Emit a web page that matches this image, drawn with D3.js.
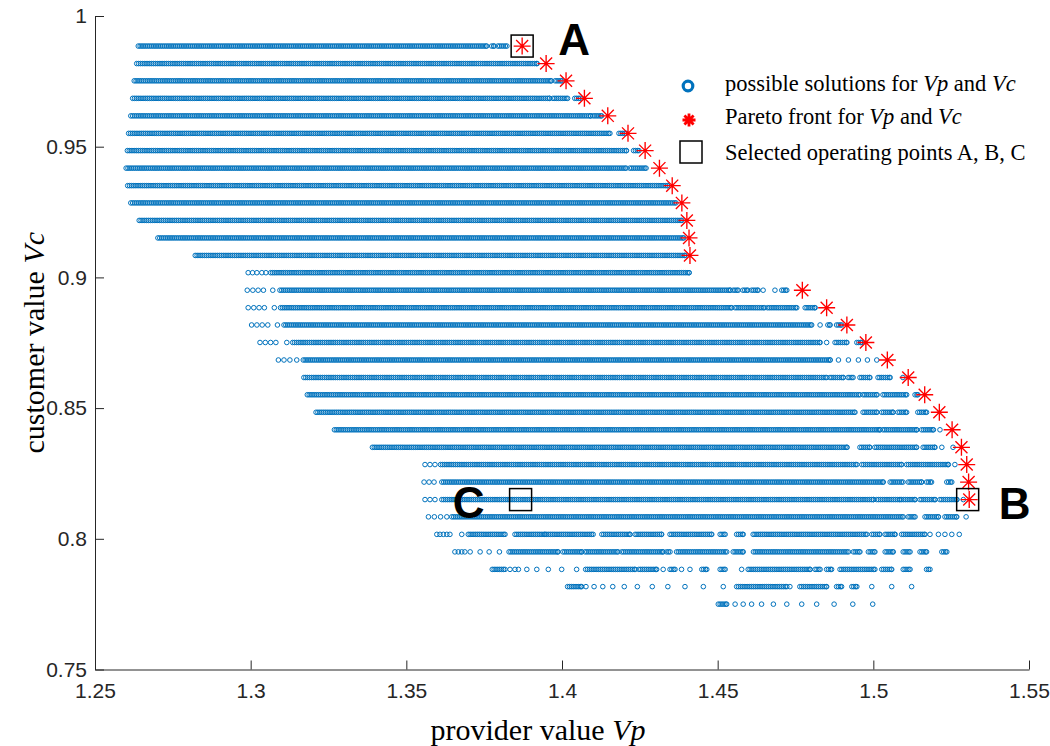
<!DOCTYPE html>
<html>
<head>
  <meta charset="utf-8">
  <title>Provider value vs customer value</title>
  <script src="https://d3js.org/d3.v7.min.js"></script>
  <style>
    body { margin: 0; background: #fff; }
    .axis path, .axis line { stroke: #262626; stroke-width: 1; }
    .axis text { font-family: "Liberation Sans", Arial, sans-serif; font-size: 21px; fill: #262626; }
    .axis-title { font-family: "Liberation Serif", "Times New Roman", serif; font-size: 30px; fill: #000; }
    .legend text { font-family: "Liberation Serif", "Times New Roman", serif; font-size: 22.5px; fill: #000; }
    .letter { font-family: "Liberation Sans", Arial, sans-serif; font-weight: bold; font-size: 44px; fill: #000; }
  </style>
</head>
<body>
<div id="chart"></div>
<script>

const width = 1050;
const height = 746;
const margin = {top: 16, right: 21, bottom: 76.5, left: 95};

// customer value Vc of each row of solutions
const vcLevels = [0.9885, 0.9818, 0.9752, 0.9685, 0.9618, 0.9551, 0.9485, 0.9418, 0.9351, 0.9285,
  0.9218, 0.9151, 0.9084, 0.9018, 0.8951, 0.8884, 0.8818, 0.8751, 0.8684, 0.8617, 0.8551,
  0.8484, 0.8417, 0.8350, 0.8284, 0.8217, 0.8150, 0.8084, 0.8017, 0.7950, 0.7883, 0.7817, 0.7750];

// provider value Vp on each row: [from, to] = dense run of solutions, number = single solution
const rowRuns = [
  [[1.2639, 1.3758], [1.3774, 1.3782], [1.3794, 1.3823]],
  [[1.2634, 1.3920]],
  [[1.2626, 1.3965], [1.3978, 1.4000]],
  [[1.2621, 1.3960], [1.3971, 1.4018], [1.4041, 1.4058]],
  [[1.2615, 1.4092], [1.4100, 1.4127]],
  [[1.2608, 1.4154], [1.4183, 1.4206]],
  [[1.2604, 1.4207], [1.4230, 1.4247]],
  [[1.2600, 1.4206], [1.4218, 1.4270]],
  [[1.2605, 1.4339]],
  [[1.2615, 1.4366]],
  [[1.2642, 1.4385]],
  [[1.2702, 1.4391]],
  [[1.2822, 1.4395]],
  [1.2992, 1.3006, 1.3020, 1.3036, 1.3049, [1.3064, 1.4408]],
  [1.2989, 1.3007, 1.3024, 1.3041, 1.3071, [1.3094, 1.4540], [1.4550, 1.4566], [1.4581, 1.4597],
    [1.4609, 1.4630], 1.4646, 1.4684, [1.4706, 1.4722]],
  [1.2992, 1.3010, 1.3027, 1.3044, 1.3076, [1.3096, 1.4545], [1.4556, 1.4650], [1.4660, 1.4754], [1.4781, 1.4813]],
  [1.3003, 1.3020, 1.3037, 1.3055, 1.3086, [1.3107, 1.4802], 1.4829, [1.4854, 1.4861], [1.4882, 1.4898]],
  [1.3030, 1.3047, 1.3064, 1.3081, 1.3116, [1.3135, 1.4829], 1.4850, [1.4877, 1.4915], [1.4947, 1.4963]],
  [1.3089, 1.3107, 1.3126, 1.3148, [1.3169, 1.4861], 1.4888, 1.4920, 1.4952, 1.4981, 1.5011],
  [[1.3171, 1.4850], [1.4861, 1.4903], [1.4919, 1.4935], [1.4957, 1.4989], [1.5015, 1.5054], 1.5095],
  [[1.3182, 1.4957], [1.4967, 1.5012], [1.5031, 1.5107], [1.5134, 1.5143]],
  [[1.3210, 1.4941], [1.4967, 1.5012], [1.5027, 1.5063], [1.5079, 1.5107], [1.5143, 1.5171]],
  [[1.3269, 1.5021], [1.5031, 1.5139], [1.5155, 1.5193], 1.5214],
  [[1.3391, 1.4915], [1.4957, 1.4989], [1.5005, 1.5139], [1.5160, 1.5198], 1.5220, 1.5256],
  [1.3560, 1.3576, 1.3592, [1.3610, 1.4947], [1.4963, 1.5091], [1.5107, 1.5241], 1.5262],
  [1.3557, 1.3573, 1.3589, [1.3614, 1.5032], [1.5054, 1.5095], [1.5112, 1.5155], [1.5171, 1.5187], [1.5236, 1.5252]],
  [1.3560, 1.3576, 1.3592, [1.3614, 1.5000], [1.5011, 1.5086], [1.5091, 1.5134], [1.5150, 1.5198],
    [1.5214, 1.5268], 1.5289],
  [1.3571, 1.3590, 1.3610, 1.3630, [1.3646, 1.5096], [1.5112, 1.5134], [1.5166, 1.5209], [1.5230, 1.5268], 1.5298],
  [1.3598, 1.3608, 1.3619, 1.3630, 1.3640, 1.3678, [1.3699, 1.3817], [1.3849, 1.3945], [1.3951, 1.4100],
    [1.4128, 1.4218], [1.4235, 1.4320], [1.4347, 1.4481], [1.4508, 1.4524], [1.4561, 1.4582], [1.4614, 1.4979],
    [1.4995, 1.5021], [1.5038, 1.5070], [1.5091, 1.5166], 1.5182, 1.5209, 1.5230, 1.5252, 1.5276],
  [1.3656, 1.3667, 1.3678, 1.3688, 1.3705, 1.3737, 1.3766, 1.3799, [1.3830, 1.3987], [1.4003, 1.4063],
    [1.4074, 1.4180], [1.4192, 1.4324], [1.4336, 1.4347], [1.4368, 1.4529], [1.4550, 1.4582], [1.4615, 1.4920],
    [1.4936, 1.4957], [1.4984, 1.5005], [1.5038, 1.5064], [1.5096, 1.5118], [1.5150, 1.5171], [1.5220, 1.5236]],
  [[1.3776, 1.3817], 1.3833, 1.3849, 1.3860, 1.3887, 1.3919, 1.3956, 1.3999, 1.4047, [1.4076, 1.4235],
    [1.4247, 1.4304], 1.4325, [1.4347, 1.4363], 1.4384, 1.4411, [1.4449, 1.4465], [1.4508, 1.4524], 1.4577,
    [1.4598, 1.4797], [1.4813, 1.4829], [1.4850, 1.4866], [1.4893, 1.5005], [1.5027, 1.5059], [1.5096, 1.5118],
    [1.5171, 1.5182]],
  [[1.4018, 1.4063], 1.4077, 1.4103, 1.4131, 1.4163, 1.4200, 1.4242, 1.4290, 1.4340, 1.4395, 1.4454, 1.4518,
    [1.4561, 1.4722], 1.4732, [1.4764, 1.4850], [1.4882, 1.4898], [1.4931, 1.4947], 1.4995, 1.5059, 1.5123],
  [[1.4502, 1.4529], 1.4556, 1.4582, 1.4609, 1.4641, 1.4679, 1.4722, 1.4770, 1.4818, 1.4874, 1.4934, 1.4998]
];
const runStep = 0.0006; // spacing of solutions inside a dense run

// Pareto front
const paretoVp = [1.3872, 1.3949, 1.4013, 1.4072, 1.4147, 1.4212, 1.4267, 1.4313, 1.4354, 1.4385, 1.4401,
  1.4408, 1.4411, 1.4772, 1.4850, 1.4915, 1.4976, 1.5045, 1.5112, 1.5165, 1.5212, 1.5253, 1.5283, 1.5300,
  1.5306, 1.5308];
const paretoVc = [0.9885, 0.9818, 0.9752, 0.9685, 0.9618, 0.9551, 0.9485, 0.9418, 0.9351, 0.9285, 0.9218,
  0.9151, 0.9084, 0.8951, 0.8884, 0.8818, 0.8751, 0.8684, 0.8617, 0.8551, 0.8484, 0.8417, 0.8350, 0.8284,
  0.8217, 0.8150];

// selected operating points
const pointLabels = ["A", "B", "C"];
const pointVp = [1.3872, 1.5303, 1.3867];
const pointVc = [0.9885, 0.8150, 0.8150];

const xTicks = [1.25, 1.3, 1.35, 1.4, 1.45, 1.5, 1.55];
const xTickLabels = ["1.25", "1.3", "1.35", "1.4", "1.45", "1.5", "1.55"];
const yTicks = [0.75, 0.8, 0.85, 0.9, 0.95, 1];
const yTickLabels = ["0.75", "0.8", "0.85", "0.9", "0.95", "1"];

const blue = "#0072BD";
const red = "#FF0000";

const x = d3.scaleLinear().domain([1.25, 1.55]).range([margin.left, width - margin.right]);
const y = d3.scaleLinear().domain([0.75, 1]).range([height - margin.bottom, margin.top]);

const svg = d3.select("#chart").append("svg")
    .attr("width", width)
    .attr("height", height);

// axes (ticks inside, no box)
svg.append("g")
    .attr("class", "axis")
    .attr("transform", `translate(0,${height - margin.bottom})`)
    .call(d3.axisBottom(x).tickValues(xTicks).tickFormat((d, i) => xTickLabels[i])
      .tickSizeInner(-9).tickSizeOuter(0).tickPadding(14));

svg.append("g")
    .attr("class", "axis")
    .attr("transform", `translate(${margin.left},0)`)
    .call(d3.axisLeft(y).tickValues(yTicks).tickFormat((d, i) => yTickLabels[i])
      .tickSizeInner(-9).tickSizeOuter(0).tickPadding(8));

// possible solutions
const solutions = [];
vcLevels.forEach((vc, i) => {
  rowRuns[i].forEach(run => {
    if (typeof run === "number") {
      solutions.push([run, vc]);
    } else {
      for (let v = run[0]; v < run[1]; v += runStep) solutions.push([v, vc]);
      solutions.push([run[1], vc]);
    }
  });
});

svg.append("g")
    .selectAll("circle")
    .data(solutions)
    .join("circle")
    .attr("cx", d => x(d[0]))
    .attr("cy", d => y(d[1]))
    .attr("r", 2.3)
    .attr("fill", "none")
    .attr("stroke", blue)
    .attr("stroke-width", 1);

// asterisk marker
function star(r) {
  const d = r * Math.SQRT1_2;
  return `M${-r},0L${r},0M0,${-r}L0,${r}M${-d},${-d}L${d},${d}M${-d},${d}L${d},${-d}`;
}

svg.append("g")
    .selectAll("path")
    .data(paretoVp)
    .join("path")
    .attr("transform", (d, i) => `translate(${x(d)},${y(paretoVc[i])})`)
    .attr("d", star(8.5))
    .attr("fill", "none")
    .attr("stroke", red)
    .attr("stroke-width", 1.35);

// selected points
const sq = 22;
svg.append("g")
    .selectAll("rect")
    .data(pointVp)
    .join("rect")
    .attr("x", d => x(d) - sq / 2)
    .attr("y", (d, i) => y(pointVc[i]) - sq / 2)
    .attr("width", sq)
    .attr("height", sq)
    .attr("fill", "none")
    .attr("stroke", "#000")
    .attr("stroke-width", 1.5);

const labelShift = [[36, 9, "start"], [31, 19, "start"], [-36, 18, "end"]];
svg.append("g")
    .selectAll("text")
    .data(pointLabels)
    .join("text")
    .attr("class", "letter")
    .attr("x", (d, i) => x(pointVp[i]) + labelShift[i][0])
    .attr("y", (d, i) => y(pointVc[i]) + labelShift[i][1])
    .attr("text-anchor", (d, i) => labelShift[i][2])
    .text(d => d);

// axis titles
const xt = svg.append("text")
    .attr("class", "axis-title")
    .attr("x", 538)
    .attr("y", 740)
    .attr("text-anchor", "middle");
xt.append("tspan").text("provider value ");
xt.append("tspan").attr("font-style", "italic").text("Vp");

const yt = svg.append("text")
    .attr("class", "axis-title")
    .attr("transform", `translate(44,${(margin.top + height - margin.bottom) / 2}) rotate(-90)`)
    .attr("text-anchor", "middle");
yt.append("tspan").text("customer value ");
yt.append("tspan").attr("font-style", "italic").text("Vc");

// legend
const legend = svg.append("g").attr("class", "legend");

legend.append("circle")
    .attr("cx", 688).attr("cy", 86).attr("r", 4.8)
    .attr("fill", "none").attr("stroke", blue).attr("stroke-width", 3.2);
legend.append("path")
    .attr("transform", "translate(689,120)")
    .attr("d", star(6.5))
    .attr("fill", "none").attr("stroke", red).attr("stroke-width", 2.8);
legend.append("rect")
    .attr("x", 680).attr("y", 141).attr("width", sq).attr("height", sq)
    .attr("fill", "none").attr("stroke", "#000").attr("stroke-width", 1.5);

const legendRows = [
  ["possible solutions for ", "Vp", " and ", "Vc"],
  ["Pareto front for ", "Vp", " and ", "Vc"],
  ["Selected operating points A, B, C"]
];
const legendBaseline = [91, 124, 160];
legendRows.forEach((parts, i) => {
  const t = legend.append("text").attr("x", 725).attr("y", legendBaseline[i]);
  parts.forEach((p, j) => {
    t.append("tspan").attr("font-style", j % 2 === 1 ? "italic" : "normal").text(p);
  });
});

</script>
</body>
</html>
